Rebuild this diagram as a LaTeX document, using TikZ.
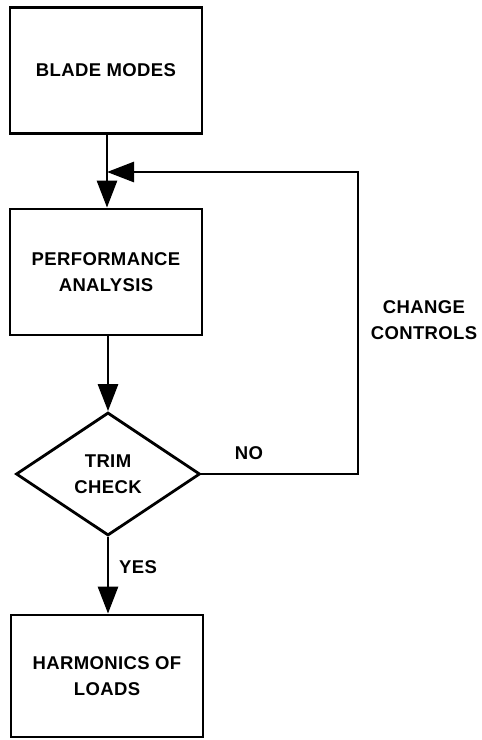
\documentclass[tikz,border=0pt]{standalone}
\usepackage{fontspec}
\setmainfont{Liberation Sans}[LetterSpace=2]
\usetikzlibrary{arrows.meta,shapes.geometric}
\begin{document}
\begin{tikzpicture}[x=1pt,y=-1pt,
  line width=2.8pt,
  txt/.style={font=\fontsize{18.5}{26}\selectfont\bfseries, align=center},
  box/.style={draw, txt, minimum width=192pt, minimum height=126pt, inner sep=0pt},
  dec/.style={draw, diamond, txt, minimum width=184pt, minimum height=123pt, inner sep=0pt},
  arr/.style={-{Triangle[length=27pt,width=20pt]}, line join=miter},
  lbl/.style={txt}]
\useasboundingbox (0,0) rectangle (482,740);
\node[box] (blade) at (106,70.5) {BLADE MODES};
\node[box] (perf) at (106,272) {PERFORMANCE\\ANALYSIS};
\node[dec] (trim) at (108,474) {TRIM\\CHECK};
\node[box, minimum height=122pt] (harm) at (107,676) {HARMONICS OF\\LOADS};
\coordinate (join) at (107,172);
\coordinate (c1) at (358,474);
\coordinate (c2) at (358,172);
\draw[arr] (blade.south -| join) -- (perf.north -| join);
\draw[arr] (perf.south -| trim.north) -- (trim.north);
\draw[arr] (trim.south) -- (harm.north -| trim.south);
\draw[arr] (trim.east) -- (c1) -- (c2) -- (join);
\node[lbl] (no) at (249,453) {NO};
\node[lbl] (yes) at (138,567) {YES};
\node[lbl] (cc) at (424,320) {CHANGE\\CONTROLS};
\end{tikzpicture}
\end{document}
